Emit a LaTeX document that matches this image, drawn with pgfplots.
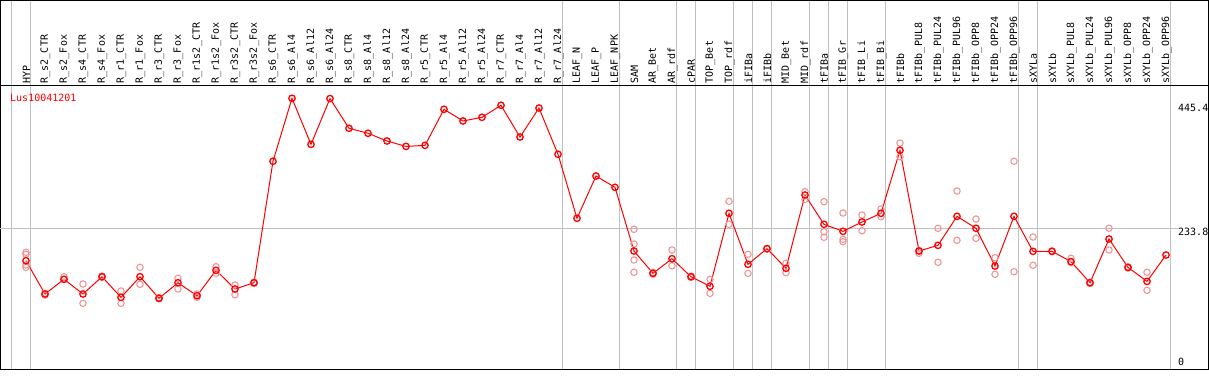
\documentclass[border=0pt]{standalone}
\usepackage{pgfplots}
\pgfplotsset{compat=1.18}
\usepackage{fontspec}
\setmonofont{DejaVu Sans Mono}
\definecolor{gridgray}{RGB}{192,192,192}
\definecolor{repred}{RGB}{238,150,150}
\tikzset{lbl/.style={font=\ttfamily\fontsize{10}{12}\selectfont, inner sep=0pt}}
\begin{document}
\begin{tikzpicture}
\begin{axis}[
  scale only axis, width=1208pt, height=369pt,
  xmin=-1.342, xmax=62.237, ymin=4.0, ymax=604.6,
  axis line style={black, line width=1pt},
  xtick={-0.76,0.24,28.24,31.24,34.24,35.24,37.24,38.24,39.24,41.24,42.24,43.24,45.24,52.24,53.24,60.24},
  xticklabels={}, ytick=\empty,
  xmajorgrids, major grid style={gridgray, line width=1pt},
  major tick length=0pt,
  clip=false,
]
\draw[gridgray, line width=1pt] (axis cs:-1.342,233.8) -- (axis cs:60.63,233.8);
\draw[black, line width=1pt] (axis cs:-1.342,465.9) -- (axis cs:62.237,465.9);

% replicates
\addplot[only marks, mark=o, mark size=3.2pt, repred, mark options={line width=1.1pt}] coordinates {
(0,194.7) (0,191.5) (0,174.1) (0,170.3)
(1,128) (1,125)
(2,155.0) (2,150.8)
(3,143.1) (3,111.7)
(4,156) (4,154)
(5,131.7) (5,111.7)
(6,170.3) (6,142.6)
(7,121) (7,119)
(8,152.4) (8,135.0)
(9,126.9) (9,121.5)
(10,171.3) (10,160.5)
(11,141.5) (11,125.7)
(12,146) (12,144)
(32,232.2) (32,208.2) (32,182.2) (32,162.2)
(33,162) (33,159)
(34,198.5) (34,172.9)
(35,156) (35,154)
(36,150.8) (36,128.0)
(37,277.7) (37,240.3)
(38,191.5) (38,160.5)
(39,201) (39,200)
(40,176.8) (40,161.5)
(41,293.4) (41,281.0)
(42,277.1) (42,228.3) (42,219.2)
(43,258.7) (43,215.9) (43,212.0)
(44,255.4) (44,229.9)
(45,265.2) (45,252.7)
(46,372.6) (46,350.3)
(47,193.1) (47,198)
(48,233.8) (48,178.4)
(49,294.5) (49,214.3)
(50,248.9) (50,217.5)
(51,185.9) (51,158.9)
(52,342.9) (52,163.2)
(53,219.6) (53,173.6)
(54,197) (54,196)
(55,185.0) (55,178)
(56,146) (56,144)
(57,233.8) (57,198.5)
(58,171) (58,169)
(59,162.2) (59,132.9)
};

% means
\addplot[red, line width=1pt, mark=o, mark size=3.2pt, mark options={line width=1.3pt}] coordinates {
(0,181.1) (1,126.9) (2,150.8) (3,126.9) (4,155.0) (5,121.4) (6,155.0) (7,119.9)
(8,145.2) (9,124.1) (10,165.4) (11,135.0) (12,145.2) (13,342.9) (14,445.4) (15,370.5)
(16,445.0) (17,396.6) (18,388.5) (19,375.9) (20,367.1) (21,368.8) (22,427.5) (23,408.5)
(24,414.5) (25,434.0) (26,382.4) (27,429.6) (28,354.3) (29,250.1) (30,318.9) (31,300.5)
(32,196.8) (33,160.6) (34,184.3) (35,155.0) (36,139.4) (37,258.2) (38,175.2) (39,200.6)
(40,168.7) (41,288.0) (42,240.3) (43,228.9) (44,244.1) (45,258.2) (46,360.8) (47,196.8)
(48,206.1) (49,253.3) (50,233.8) (51,172.4) (52,253.3) (53,196.3) (54,196.3) (55,179.6)
(56,145.2) (57,216.4) (58,170.2) (59,147.4) (60,190.3)
};

\foreach \n [count=\i from 0] in {HYP, R\_s2\_CTR, R\_s2\_Fox, R\_s4\_CTR, R\_s4\_Fox, R\_r1\_CTR, R\_r1\_Fox, R\_r3\_CTR, R\_r3\_Fox, R\_r1s2\_CTR, R\_r1s2\_Fox, R\_r3s2\_CTR, R\_r3s2\_Fox, R\_s6\_CTR, R\_s6\_Al4, R\_s6\_Al12, R\_s6\_Al24, R\_s8\_CTR, R\_s8\_Al4, R\_s8\_Al12, R\_s8\_Al24, R\_r5\_CTR, R\_r5\_Al4, R\_r5\_Al12, R\_r5\_Al24, R\_r7\_CTR, R\_r7\_Al4, R\_r7\_Al12, R\_r7\_Al24, LEAF\_N, LEAF\_P, LEAF\_NPK, SAM, AR\_Bet, AR\_rdf, cPAR, TOP\_Bet, TOP\_rdf, iFIBa, iFIBb, MID\_Bet, MID\_rdf, tFIBa, tFIB\_Gr, tFIB\_Li, tFIB\_Bi, tFIBb, tFIBb\_PUL8, tFIBb\_PUL24, tFIBb\_PUL96, tFIBb\_OPP8, tFIBb\_OPP24, tFIBb\_OPP96, sXYLa, sXYLb, sXYLb\_PUL8, sXYLb\_PUL24, sXYLb\_PUL96, sXYLb\_OPP8, sXYLb\_OPP24, sXYLb\_OPP96}{
  \edef\temp{\noexpand\node[lbl, rotate=90, anchor=west] at (axis cs:\i+0.02,469.8) {\unexpanded\expandafter{\n}};}
  \temp
}

\node[lbl, anchor=west, text=red] at (axis cs:-0.842,446.4) {Lus10041201};
\node[lbl, anchor=west] at (axis cs:60.63,430.1) {445.4};
\node[lbl, anchor=west] at (axis cs:60.63,228.3) {233.8};
\node[lbl, anchor=west] at (axis cs:60.63,16.7) {0};
\end{axis}
\end{tikzpicture}
\end{document}
